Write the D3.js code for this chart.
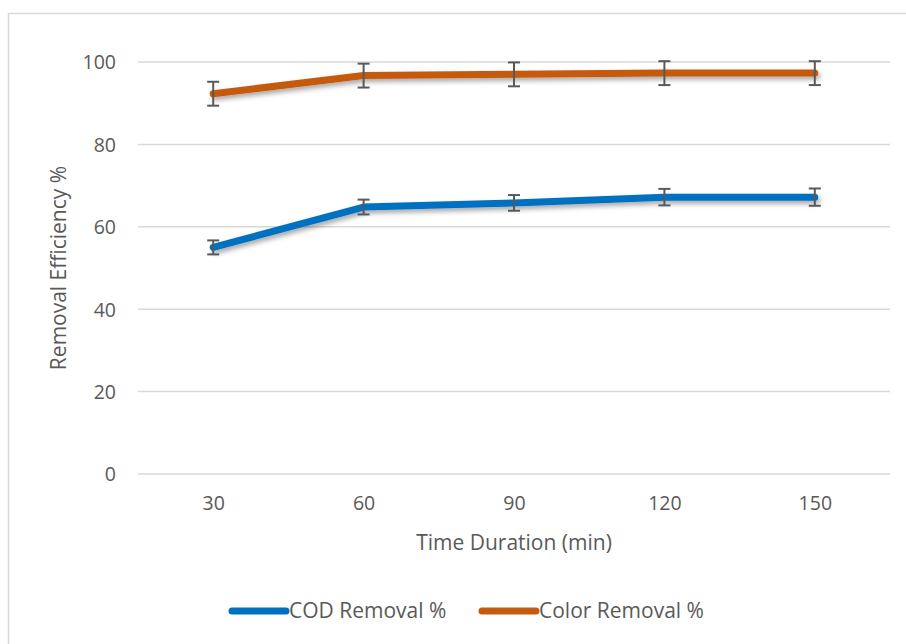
<!DOCTYPE html>
<html><head><meta charset="utf-8">
<script src="https://cdn.jsdelivr.net/npm/d3@7"></script>
<style>
html,body{margin:0;padding:0;background:#fff;}
svg{display:block;}
text{font-family:"Open Sans",sans-serif;fill:#595959;}
</style></head>
<body>
<svg id="chart" width="906" height="644"></svg>
<script>
const categories = ["30","60","90","120","150"];
const codValues = [55.0, 64.8, 65.8, 67.2, 67.2];
const codErrors = [1.7, 1.8, 1.9, 2.0, 2.1];
const colorValues = [92.3, 96.7, 97.0, 97.3, 97.3];
const colorErrors = [2.9, 2.9, 2.9, 2.9, 2.9];
const yTicks = [0, 20, 40, 60, 80, 100];
const seriesNames = ["COD Removal %", "Color Removal %"];
const seriesColors = ["#0070C0", "#C55A11"];

(function(){
const FONT = "'Open Sans',sans-serif", FS = 21, FT = 19.5;
const svg = d3.select("#chart");
svg.append("rect").attr("x",8.5).attr("y",13.5).attr("width",920).attr("height",660)
  .attr("fill","#fff").attr("stroke","#d9d9d9").attr("stroke-width",1.5);

const pL = 138, pR = 890, pT = 62, pB = 474;
const x = d3.scalePoint().domain(categories).range([pL, pR]).padding(0.5);
const y = d3.scaleLinear().domain([0,100]).range([pB, pT]);

const defs = svg.append("defs");
const f = defs.append("filter").attr("id","shadow").attr("x","-10%").attr("y","-50%").attr("width","120%").attr("height","200%");
f.append("feDropShadow").attr("dx",2).attr("dy",3).attr("stdDeviation",2.5).attr("flood-color","#000").attr("flood-opacity",0.35);

svg.append("g").selectAll("line").data(yTicks).join("line")
  .attr("x1",pL).attr("x2",pR).attr("y1",d=>y(d)).attr("y2",d=>y(d))
  .attr("stroke","#d9d9d9").attr("stroke-width",1.5);

const yAxis = d3.axisLeft(y).tickValues(yTicks).tickSize(0).tickPadding(0);
const gy = svg.append("g").attr("transform",`translate(${pL-22},0)`).call(yAxis);
gy.select(".domain").remove();
gy.selectAll("text").attr("font-size",FT).attr("fill","#595959").attr("dy","0.35em").style("font-family",FONT);

const xAxis = d3.axisBottom(x).tickSize(0).tickPadding(0);
const gx = svg.append("g").attr("transform",`translate(0,${pB+22})`).call(xAxis);
gx.select(".domain").remove();
gx.selectAll("text").attr("font-size",FT).attr("fill","#595959").attr("dy","0.71em").style("font-family",FONT);

svg.append("text").attr("x",(pL+pR)/2).attr("y",550).attr("text-anchor","middle")
  .attr("font-size",FS).text("Time Duration (min)");
svg.append("text").attr("transform",`translate(66,${(pT+pB)/2}) rotate(-90)`)
  .attr("text-anchor","middle").attr("font-size",FS).text("Removal Efficiency %");

const series = [
  {vals: colorValues, errs: colorErrors, color: seriesColors[1]},
  {vals: codValues, errs: codErrors, color: seriesColors[0]}
];
const line = d3.line().x((d,i)=>x(categories[i])).y(d=>y(d));
series.forEach(s=>{
  svg.append("path").datum(s.vals).attr("d",line).attr("fill","none")
    .attr("stroke",s.color).attr("stroke-width",7).attr("stroke-linecap","round").attr("stroke-linejoin","round")
    .attr("filter","url(#shadow)");
});
series.forEach(s=>{
  const g = svg.append("g").attr("stroke","#595959").attr("stroke-width",2);
  s.vals.forEach((v,i)=>{
    const cx = x(categories[i]), y1 = y(v+s.errs[i]), y2 = y(v-s.errs[i]);
    g.append("line").attr("x1",cx).attr("x2",cx).attr("y1",y1).attr("y2",y2);
    g.append("line").attr("x1",cx-6).attr("x2",cx+6).attr("y1",y1).attr("y2",y1);
    g.append("line").attr("x1",cx-6).attr("x2",cx+6).attr("y1",y2).attr("y2",y2);
  });
});

const legX = [232, 482];
seriesNames.forEach((n,i)=>{
  svg.append("line").attr("x1",legX[i]).attr("x2",legX[i]+54).attr("y1",611).attr("y2",611)
    .attr("stroke",seriesColors[i]).attr("stroke-width",7).attr("stroke-linecap","round");
  svg.append("text").attr("x",legX[i]+57).attr("y",611).attr("dy","0.35em")
    .attr("font-size",FS).text(n);
});
})();
</script>
</body></html>
